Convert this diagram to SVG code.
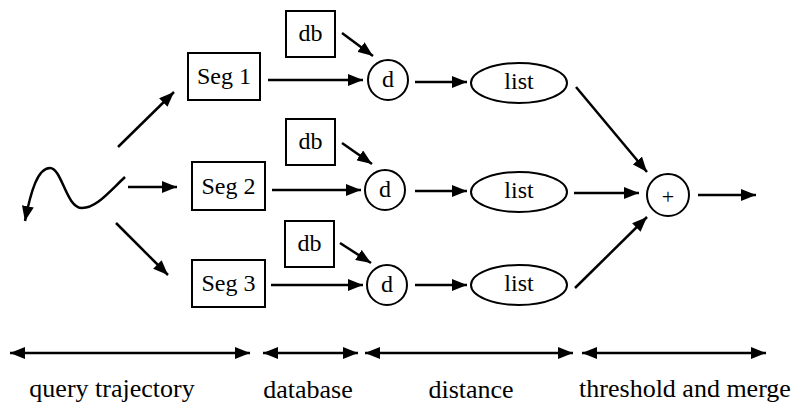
<svg xmlns="http://www.w3.org/2000/svg" width="795" height="408" viewBox="0 0 795 408" font-family="'Liberation Serif', 'Times New Roman', 'DejaVu Serif', Times, serif">
<style>
.box{fill:#fff;stroke:#000;stroke-width:2}
text{font-family:'Liberation Serif','Times New Roman','DejaVu Serif',Times,serif;fill:#000;text-anchor:middle}
.t{font-size:24px}
.lab{font-size:26px}
.c{fill:none;stroke:#000;stroke-width:2.5}
</style>
<defs>
<marker id="ah" viewBox="0 0 15 12" refX="15" refY="6" markerWidth="15" markerHeight="12" markerUnits="userSpaceOnUse" orient="auto">
<path d="M0,0 L15,6 L0,12 Z" fill="#000"/>
</marker>
<marker id="as" viewBox="0 0 15 12" refX="0" refY="6" markerWidth="15" markerHeight="12" markerUnits="userSpaceOnUse" orient="auto">
<path d="M15,0 L0,6 L15,12 Z" fill="#000"/>
</marker>
</defs>
<g id="query">
<path class="c" d="M125,177 C108,193 96,208 82,208 C66,208 62,168 50,168 C38,168 31,190 25,221" marker-end="url(#ah)"/>
</g>
<g id="seg1"><rect class="box" x="188" y="53" width="72" height="47"/><text class="t" x="224" y="84">Seg 1</text></g>
<g id="seg2"><rect class="box" x="192" y="162" width="73" height="48"/><text class="t" x="228.5" y="194">Seg 2</text></g>
<g id="seg3"><rect class="box" x="192" y="260" width="73" height="47"/><text class="t" x="228.5" y="291">Seg 3</text></g>
<g id="db1"><rect class="box" x="286" y="11" width="49" height="46"/><text class="t" x="310.5" y="41">db</text></g>
<g id="db2"><rect class="box" x="286" y="119" width="49" height="46"/><text class="t" x="310.5" y="149">db</text></g>
<g id="db3"><rect class="box" x="285" y="221" width="49" height="46"/><text class="t" x="309.5" y="251">db</text></g>
<g id="d1"><circle class="box" cx="388" cy="80" r="20"/><text class="t" x="388" y="87">d</text></g>
<g id="d2"><circle class="box" cx="385" cy="190" r="20"/><text class="t" x="385" y="197">d</text></g>
<g id="d3"><circle class="box" cx="387" cy="285" r="20"/><text class="t" x="387" y="292">d</text></g>
<g id="list1"><ellipse class="box" cx="519" cy="83" rx="48" ry="20"/><text class="t" x="519" y="89">list</text></g>
<g id="list2"><ellipse class="box" cx="519" cy="192" rx="48" ry="20"/><text class="t" x="519" y="198">list</text></g>
<g id="list3"><ellipse class="box" cx="519" cy="285" rx="48" ry="20"/><text class="t" x="519" y="291">list</text></g>
<g id="merge"><circle class="box" cx="668" cy="195" r="21"/><text class="t" x="668" y="204" style="font-size:22px">+</text></g>
<g id="connectors">
<line class="c" x1="118" y1="147" x2="174" y2="92" marker-end="url(#ah)"/>
<line class="c" x1="128" y1="187" x2="177" y2="187" marker-end="url(#ah)"/>
<line class="c" x1="116" y1="223" x2="168" y2="275" marker-end="url(#ah)"/>
<line class="c" x1="268" y1="80" x2="363" y2="80" marker-end="url(#ah)"/>
<line class="c" x1="272" y1="190" x2="361" y2="190" marker-end="url(#ah)"/>
<line class="c" x1="271" y1="285" x2="363" y2="285" marker-end="url(#ah)"/>
<line class="c" x1="342" y1="33" x2="373" y2="56" marker-end="url(#ah)"/>
<line class="c" x1="342" y1="143" x2="372" y2="164" marker-end="url(#ah)"/>
<line class="c" x1="340" y1="243" x2="371" y2="263" marker-end="url(#ah)"/>
<line class="c" x1="415" y1="82" x2="467" y2="82" marker-end="url(#ah)"/>
<line class="c" x1="415" y1="191" x2="467" y2="191" marker-end="url(#ah)"/>
<line class="c" x1="415" y1="285" x2="467" y2="285" marker-end="url(#ah)"/>
<line class="c" x1="576" y1="87" x2="647" y2="172" marker-end="url(#ah)"/>
<line class="c" x1="574" y1="193" x2="639" y2="193" marker-end="url(#ah)"/>
<line class="c" x1="575" y1="288" x2="647" y2="217" marker-end="url(#ah)"/>
<line class="c" x1="698" y1="195" x2="756" y2="195" marker-end="url(#ah)"/>
<line class="c" x1="10" y1="353" x2="250" y2="353" marker-start="url(#as)" marker-end="url(#ah)"/>
<line class="c" x1="263" y1="353" x2="358" y2="353" marker-start="url(#as)" marker-end="url(#ah)"/>
<line class="c" x1="365" y1="353" x2="573" y2="353" marker-start="url(#as)" marker-end="url(#ah)"/>
<line class="c" x1="582" y1="353" x2="766" y2="353" marker-start="url(#as)" marker-end="url(#ah)"/>
</g>
<g id="labels">
<text class="lab" x="112" y="397">query trajectory</text>
<text class="lab" x="308" y="398">database</text>
<text class="lab" x="471" y="398">distance</text>
<text class="lab" x="685" y="397">threshold and merge</text>
</g>
</svg>
